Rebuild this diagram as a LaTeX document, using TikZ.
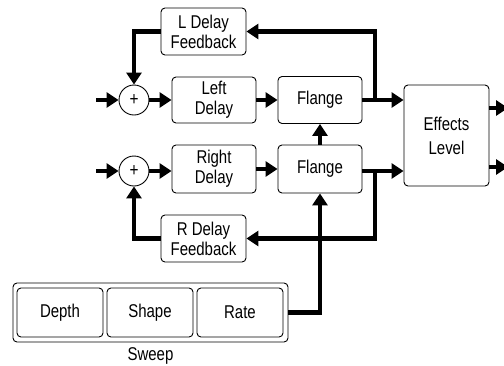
\documentclass[tikz,border=0pt]{standalone}
\usepackage{fontspec}
\setmainfont{Liberation Sans}[FakeStretch=0.81]
\usetikzlibrary{arrows.meta}

\begin{document}
\begin{tikzpicture}[x=1pt, y=-1pt,
  box/.style={draw, rounded corners=4pt, line width=0.9pt, align=center,
    inner sep=0pt, font=\fontsize{18.5}{20}\selectfont},
  sum/.style={draw, circle, line width=0.9pt, minimum size=30pt, inner sep=0pt,
    font=\fontsize{19}{19}\selectfont},
  flow/.style={line width=4.6pt, -{Triangle[length=12pt,width=15pt]}}]

\useasboundingbox (0,0) rectangle (504,365);

% Left channel
\node[sum] (sumL) at (134,100) {+};
\node[box, minimum width=84pt, minimum height=46pt] (delayL) at (214,100) {Left\\Delay};
\node[box, minimum width=84pt, minimum height=47pt] (flangeL) at (320,100) {Flange};
\node[box, minimum width=85pt, minimum height=47pt] (fbL) at (203.5,31.5) {L Delay\\Feedback};

% Right channel
\node[sum] (sumR) at (134,171) {+};
\node[box, minimum width=84pt, minimum height=48pt] (delayR) at (214,169) {Right\\Delay};
\node[box, minimum width=84pt, minimum height=48pt] (flangeR) at (320,169) {Flange};
\node[box, minimum width=85pt, minimum height=47pt] (fbR) at (203.5,238.5) {R Delay\\Feedback};

% Effects level
\node[box, minimum width=85pt, minimum height=101pt] (effects) at (446.5,135.5) {Effects\\[4pt]Level};

% Sweep controls
\node[box, minimum width=275pt, minimum height=59pt] (sweep) at (150.5,312.5) {};
\node[box, minimum width=86pt, minimum height=49pt] (depth) at (60,312.5) {Depth};
\node[box, minimum width=86pt, minimum height=49pt] (shape) at (150,312.5) {Shape};
\node[box, minimum width=86pt, minimum height=49pt] (rate) at (240,312.5) {Rate};
\node[font=\fontsize{18.5}{18}\selectfont] (sweeplabel) at (150.5,356) {Sweep};

% Free ends
\coordinate (inL) at (96,100);
\coordinate (inR) at (96,171);
\coordinate (tapL) at (375,100);
\coordinate (tapR) at (375,171);
\coordinate (outL) at (508,108);
\coordinate (outR) at (508,167);

% Left signal path
\draw[flow] (inL) -- (sumL.west);
\draw[flow] (sumL) -- (delayL);
\draw[flow] (delayL) -- (flangeL);
\draw[flow] (flangeL.east) -- (effects.west |- flangeL);
\draw[flow] (tapL) |- (fbL.east);
\draw[flow] (fbL.west) -| (sumL.north);

% Right signal path
\draw[flow] (inR) -- (sumR.west);
\draw[flow] (sumR) -- (delayR.west |- sumR);
\draw[flow] (delayR) -- (flangeR);
\draw[flow] (flangeR.east |- tapR) -- (effects.west |- tapR);
\draw[flow] (tapR) |- (fbR.east);
\draw[flow] (fbR.west) -| (sumR.south);

% Sweep modulation
\draw[flow] (sweep.east) -| (flangeR.south);
\draw[flow] (flangeR.north) -- (flangeL.south);

% Outputs
\draw[flow] (effects.east |- outL) -- (outL);
\draw[flow] (effects.east |- outR) -- (outR);

\end{tikzpicture}
\end{document}
